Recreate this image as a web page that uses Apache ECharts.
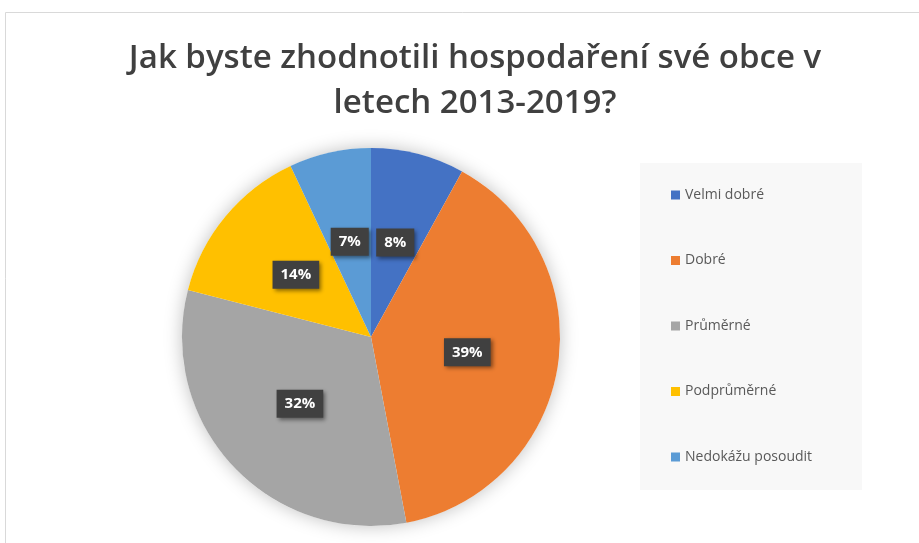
<!DOCTYPE html>
<html lang="cs">
<head>
<meta charset="utf-8">
<title>Hospodaření obce</title>
<script src="https://cdn.jsdelivr.net/npm/echarts@6/dist/echarts.min.js"></script>
<style>
  html, body { margin: 0; padding: 0; background: #fff; }
  #main { width: 919px; height: 543px; }
</style>
</head>
<body>
<div id="main"></div>
<script>
// data
var categories = ['Velmi dobré', 'Dobré', 'Průměrné', 'Podprůměrné', 'Nedokážu posoudit'];
var shares = [8, 39, 32, 14, 7];
var colors = ['#4472C4', '#ED7D31', '#A5A5A5', '#FFC000', '#5B9BD5'];

var chart = echarts.init(document.getElementById('main'));

var pieData = categories.map(function (name, i) {
    return { name: name, value: shares[i], itemStyle: { color: colors[i] } };
});

var option = {
    animation: false,
    color: colors,
    title: {
        text: 'Jak byste zhodnotili hospodaření své obce v\nletech 2013-2019?',
        left: 470,
        textAlign: 'center',
        top: 31,
        textStyle: {
            fontFamily: 'Open Sans',
            fontWeight: 600,
            fontSize: 33,
            lineHeight: 45,
            color: '#404040'
        }
    },
    graphic: [
        { type: 'rect', z: -10, shape: { x: 5.5, y: 12.5, width: 940, height: 600 },
          style: { fill: '#fff', stroke: '#d9d9d9', lineWidth: 1 } },
        { type: 'rect', z: -5, shape: { x: 640, y: 163, width: 222, height: 327 },
          style: { fill: '#f8f8f8' } }
    ],
    legend: {
        orient: 'vertical',
        left: 666,
        top: 183,
        itemWidth: 9,
        itemHeight: 9,
        itemGap: 51.5,
        icon: 'rect',
        data: categories,
        textStyle: { fontFamily: 'Open Sans', fontSize: 14, color: '#595959' }
    },
    series: [
        {
            // soft shadow behind the pie
            type: 'pie',
            silent: true,
            z: 1,
            center: [371, 337],
            radius: 189,
            label: { show: false },
            legendHoverLink: false,
            itemStyle: { color: '#fff', shadowBlur: 18, shadowColor: 'rgba(0,0,0,0.25)' },
            data: [{ value: 1, name: '' }]
        },
        {
            type: 'pie',
            z: 2,
            center: [371, 337],
            radius: 189,
            startAngle: 90,
            clockwise: true,
            percentPrecision: 0,
            data: pieData,
            itemStyle: { borderWidth: 0 },
            label: {
                show: true,
                position: 'inside',
                formatter: '{d}%',
                color: '#fff',
                fontFamily: 'Open Sans',
                fontWeight: 'bold',
                fontSize: 15,
                backgroundColor: '#404040',
                padding: [7, 8, 6, 8],
                shadowBlur: 4,
                shadowOffsetX: 2,
                shadowOffsetY: 2,
                shadowColor: 'rgba(0,0,0,0.45)'
            },
            labelLine: { show: false }
        }
    ]
};

chart.setOption(option);
</script>
</body>
</html>
